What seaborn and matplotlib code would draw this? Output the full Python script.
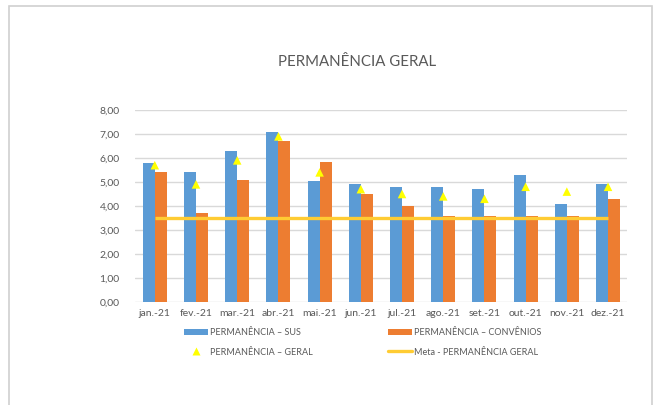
import matplotlib
matplotlib.use("Agg")
import matplotlib.pyplot as plt
import seaborn as sns
import pandas as pd
from matplotlib.patches import Patch, Rectangle
from matplotlib.lines import Line2D

months = ["jan.-21", "fev.-21", "mar.-21", "abr.-21", "mai.-21", "jun.-21",
          "jul.-21", "ago.-21", "set.-21", "out.-21", "nov.-21", "dez.-21"]
sus = [5.8, 5.4, 6.3, 7.1, 5.05, 4.9, 4.8, 4.8, 4.7, 5.3, 4.1, 4.9]
convenios = [5.4, 3.7, 5.1, 6.7, 5.85, 4.5, 4.0, 3.6, 3.6, 3.6, 3.6, 4.3]
geral = [5.7, 4.9, 5.9, 6.9, 5.4, 4.7, 4.5, 4.4, 4.3, 4.8, 4.6, 4.8]
meta = [3.5] * 12
yticks = [0, 1, 2, 3, 4, 5, 6, 7, 8]

lab_sus = "PERMANÊNCIA – SUS"
lab_conv = "PERMANÊNCIA – CONVÊNIOS"
lab_geral = "PERMANÊNCIA – GERAL"
lab_meta = "Meta - PERMANÊNCIA GERAL"

sns.set_theme(style="white")
plt.rcParams["font.family"] = ["Lato", "DejaVu Sans"]

c_sus = "#5B9BD5"
c_conv = "#ED7D31"
c_geral = "#FFFF00"
c_meta = "#FFCC33"
txt = "#595959"

bars = pd.DataFrame({
    "mes": months * 2,
    "valor": sus + convenios,
    "serie": [lab_sus] * 12 + [lab_conv] * 12,
})
pts = pd.DataFrame({"mes": months, "geral": geral, "meta": meta, "idx": range(12)})

fig = plt.figure(figsize=(6.57, 4.05), dpi=100)
fig.patches.append(Rectangle((9 / 657, -0.05), (652 - 9) / 657, 1.05 - 6 / 405,
                             transform=fig.transFigure, fill=False,
                             edgecolor="#D0D0D0", linewidth=1.2))
ax = fig.add_axes([135 / 657, 1 - 302 / 405, (627 - 135) / 657, (302 - 110) / 405])

sns.barplot(data=bars, x="mes", y="valor", hue="serie", order=months,
            hue_order=[lab_sus, lab_conv], palette=[c_sus, c_conv],
            width=0.58, gap=0, ax=ax, legend=False, saturation=1,
            edgecolor="none", zorder=2)
ax.plot(pts["idx"], pts["meta"], color=c_meta, linewidth=2.4, zorder=3,
        solid_capstyle="butt")
sns.scatterplot(data=pts, x="idx", y="geral", marker="^", color=c_geral,
                s=38, edgecolor="none", ax=ax, zorder=4, legend=False)

ax.set_xlim(-0.48, 11.46)
ax.set_ylim(0, 8)
ax.set_yticks(yticks)
ax.set_yticklabels([f"{v:.2f}".replace(".", ",") for v in yticks],
                   fontsize=7.5, color=txt)
ax.set_xticks(range(12))
ax.set_xticklabels(months, fontsize=7.5, color=txt)
ax.tick_params(axis="both", length=0, pad=5)
ax.tick_params(axis="y", pad=11)
ax.grid(axis="y", color="#D9D9D9", linewidth=1, zorder=0)
ax.set_axisbelow(True)
for s in ["top", "right", "left", "bottom"]:
    ax.spines[s].set_visible(False)
ax.set_xlabel("")
ax.set_ylabel("")

fig.text(357 / 657, 1 - 62 / 405, "PERMANÊNCIA GERAL", ha="center", va="center",
         fontsize=10.8, color=txt)

handles = [
    Patch(facecolor=c_sus, edgecolor="none"),
    Line2D([], [], marker="^", color="none", markerfacecolor=c_geral,
           markeredgecolor="none", markersize=6),
    Patch(facecolor=c_conv, edgecolor="none"),
    Line2D([], [], color=c_meta, linewidth=2.4),
]
labels = [lab_sus, lab_geral, lab_conv, lab_meta]
leg = fig.legend(handles, labels, ncol=2, loc="upper left",
                 bbox_to_anchor=(176 / 657, 1 - 320 / 405), frameon=False,
                 fontsize=6.5, handlelength=2.6, handleheight=0.6,
                 handletextpad=0.25, columnspacing=8.4, labelspacing=1.15)
for t in leg.get_texts():
    t.set_color(txt)

fig.savefig("out.png", dpi=100)
